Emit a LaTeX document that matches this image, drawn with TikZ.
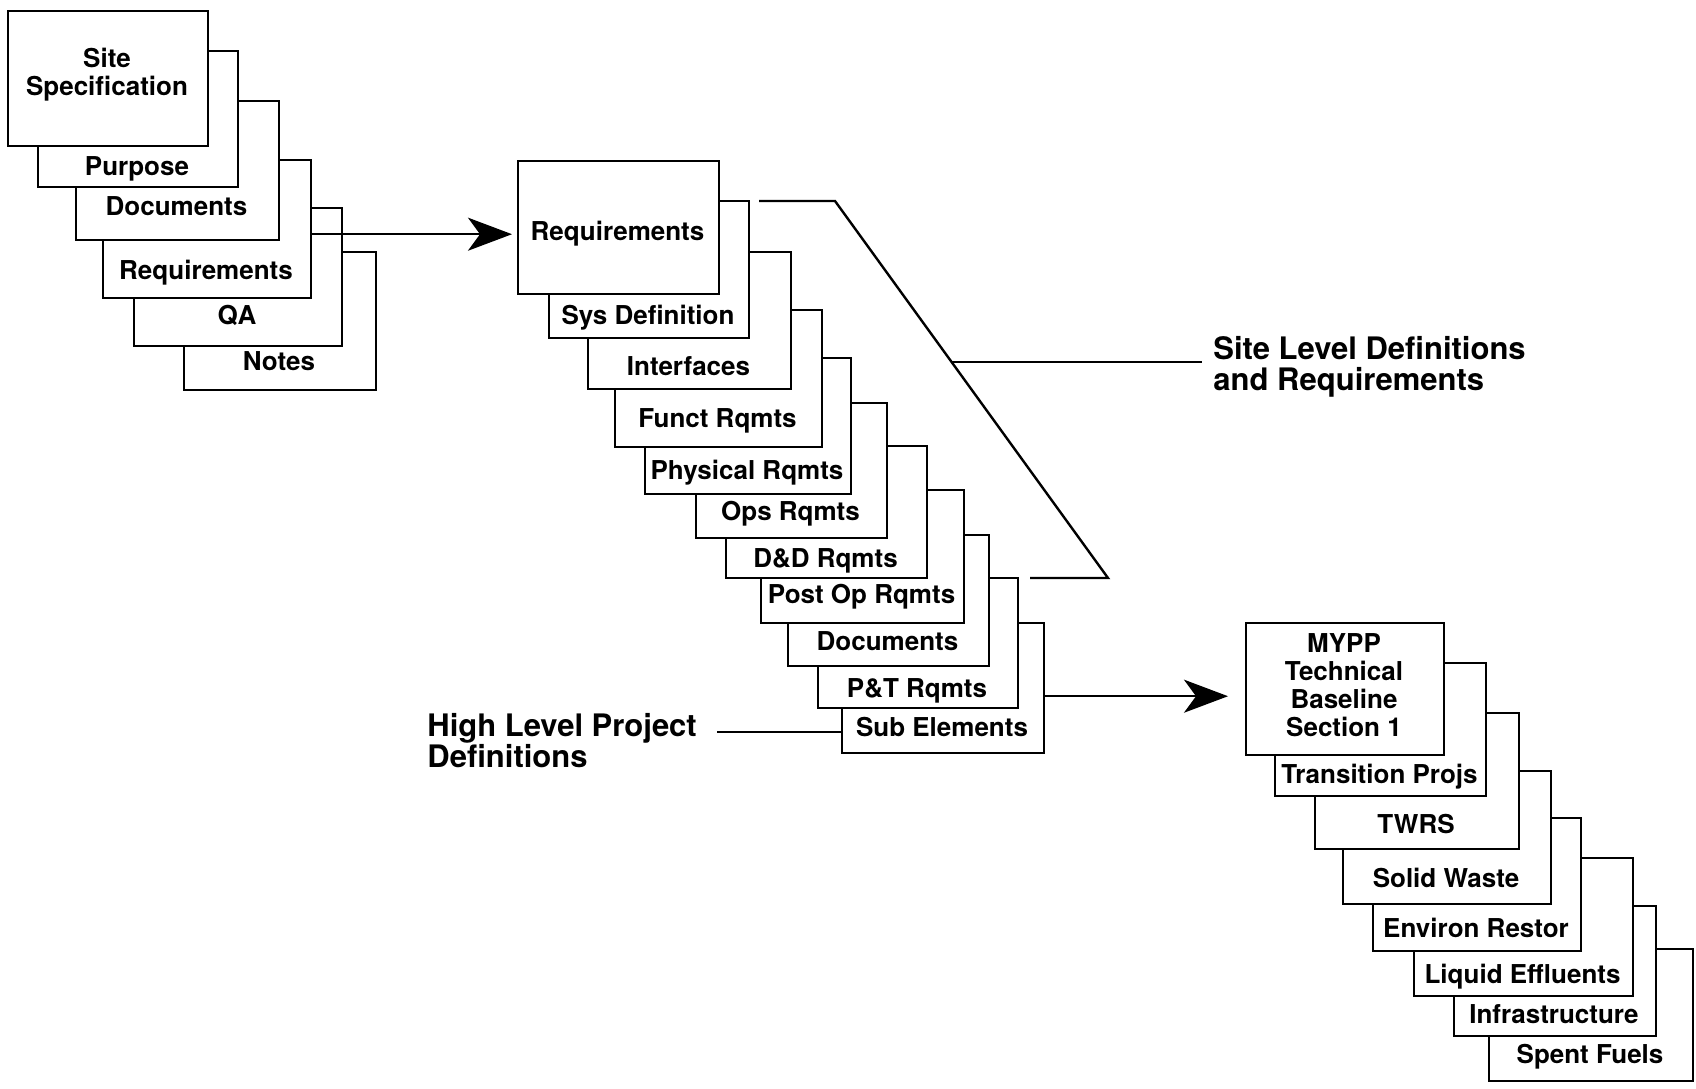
\documentclass[tikz,border=0pt]{standalone}
\usepackage{fontspec}
\setmainfont{TeX Gyre Heros}
\usepackage{tikz}
\usetikzlibrary{arrows.meta}
\usetikzlibrary{calc}

\begin{document}
\begin{tikzpicture}[x=0.5pt,y=-0.5pt,
  card/.style 2 args={draw,fill=white,line width=1.2pt,inner sep=0pt,anchor=north west,
    minimum width=#1*0.5pt,minimum height=#2*0.5pt},
  txt/.style={font=\fontsize{13}{14}\selectfont\bfseries,inner sep=0pt,anchor=base},
  big/.style={font=\fontsize{15.5}{15.5}\selectfont\bfseries,inner sep=0pt,anchor=north west,align=left},
  bigarrow/.style={line width=1.2pt,-{Stealth[length=22pt,width=16.5pt,inset=6pt]}},
  thinline/.style={line width=1.2pt}]
\useasboundingbox (0,0) rectangle (1696,1088);
% site specification
\node[card={192}{138}] at (183,251) (s1notes) {};
\node[txt] at (279,370) (t1notes) {Notes};
\node[card={208}{138}] at (133,207) (s1qa) {};
\node[txt] at (237,324) (t1qa) {QA};
\node[card={208}{138}] at (102,159) (s1req) {};
\node[txt] at (206,279) (t1req) {Requirements};
\node[card={203}{139}] at (75,100) (s1doc) {};
\node[txt] at (176.5,215) (t1doc) {Documents};
\node[card={200}{136}] at (37,50) (s1purp) {};
\node[txt] at (137,175) (t1purp) {Purpose};
\node[card={200}{135}] at (7,10) (s1site) {};
\node[txt,anchor=center,align=center] at (107,75) (t1site) {Site\\Specification};
% site level requirements
\node[card={202}{130}] at (841,622) (s2sub) {};
\node[txt] at (942,736) (t2sub) {Sub Elements};
\node[card={200}{130}] at (817,577) (s2pt) {};
\node[txt] at (917,697) (t2pt) {P\&T Rqmts};
\node[card={201}{131}] at (787,534) (s2docs) {};
\node[txt] at (887.5,650) (t2docs) {Documents};
\node[card={203}{133}] at (760,489) (s2post) {};
\node[txt] at (861.5,603) (t2post) {Post Op Rqmts};
\node[card={201}{132}] at (725,445) (s2dd) {};
\node[txt] at (825.5,567) (t2dd) {D\&D Rqmts};
\node[card={191}{135}] at (695,402) (s2ops) {};
\node[txt] at (790.5,520) (t2ops) {Ops Rqmts};
\node[card={206}{136}] at (644,357) (s2phys) {};
\node[txt] at (747,479) (t2phys) {Physical Rqmts};
\node[card={207}{137}] at (614,309) (s2funct) {};
\node[txt] at (717.5,427) (t2funct) {Funct Rqmts};
\node[card={203}{137}] at (587,251) (s2intf) {};
\node[txt] at (688.5,375) (t2intf) {Interfaces};
\node[card={200}{137}] at (548,200) (s2sys) {};
\node[txt] at (648,324) (t2sys) {Sys Definition};
\node[card={201}{133}] at (517,160) (s2req) {};
\node[txt] at (617.5,240) (t2req) {Requirements};
% technical baseline
\node[card={204}{132}] at (1488,948) (s3spent) {};
\node[txt] at (1590,1063) (t3spent) {Spent Fuels};
\node[card={202}{130}] at (1453,905) (s3infra) {};
\node[txt] at (1554,1023) (t3infra) {Infrastructure};
\node[card={219}{138}] at (1413,857) (s3liq) {};
\node[txt] at (1522.5,983) (t3liq) {Liquid Effluents};
\node[card={208}{133}] at (1372,817) (s3env) {};
\node[txt] at (1476,937) (t3env) {Environ Restor};
\node[card={208}{133}] at (1342,770) (s3solid) {};
\node[txt] at (1446,887) (t3solid) {Solid Waste};
\node[card={204}{136}] at (1314,712) (s3twrs) {};
\node[txt] at (1416,833) (t3twrs) {TWRS};
\node[card={211}{133}] at (1274,662) (s3trans) {};
\node[txt] at (1379.5,783) (t3trans) {Transition Projs};
\node[card={198}{132}] at (1245,622) (s3myp) {};
\node[txt,anchor=center,align=center] at (1344,685) (t3myp) {MYPP\\Technical\\Baseline\\Section 1};
% arrows and labels
\draw[bigarrow,shorten >=2.5pt] ([yshift=-2.5pt]s1req.east) -- ([yshift=-2.5pt]s1req.east -| s2req.west);
\draw[bigarrow,shorten >=8.5pt] ([yshift=-4pt]s2sub.east) -- ([yshift=-4pt]s2sub.east -| s3myp.west);
\coordinate (b1) at (759,201);
\coordinate (b2) at (835,201);
\coordinate (b3) at (1108,578);
\coordinate (b4) at (1030,578);
\draw[thinline] (b1) -- (b2) -- (b3) -- (b4);
\coordinate (bm) at ($(b2)!0.427!(b3)$);
\node[big] at (1213,336) (sitelbl) {Site Level Definitions\\and Requirements};
\draw[thinline] (bm) -- ([xshift=-5.5pt]bm -| sitelbl.west);
\node[big] at (427,713) (projlbl) {High Level Project\\Definitions};
\coordinate (hl) at (717,732);
\draw[thinline] (hl) -- (hl -| s2sub.west);
\end{tikzpicture}
\end{document}
